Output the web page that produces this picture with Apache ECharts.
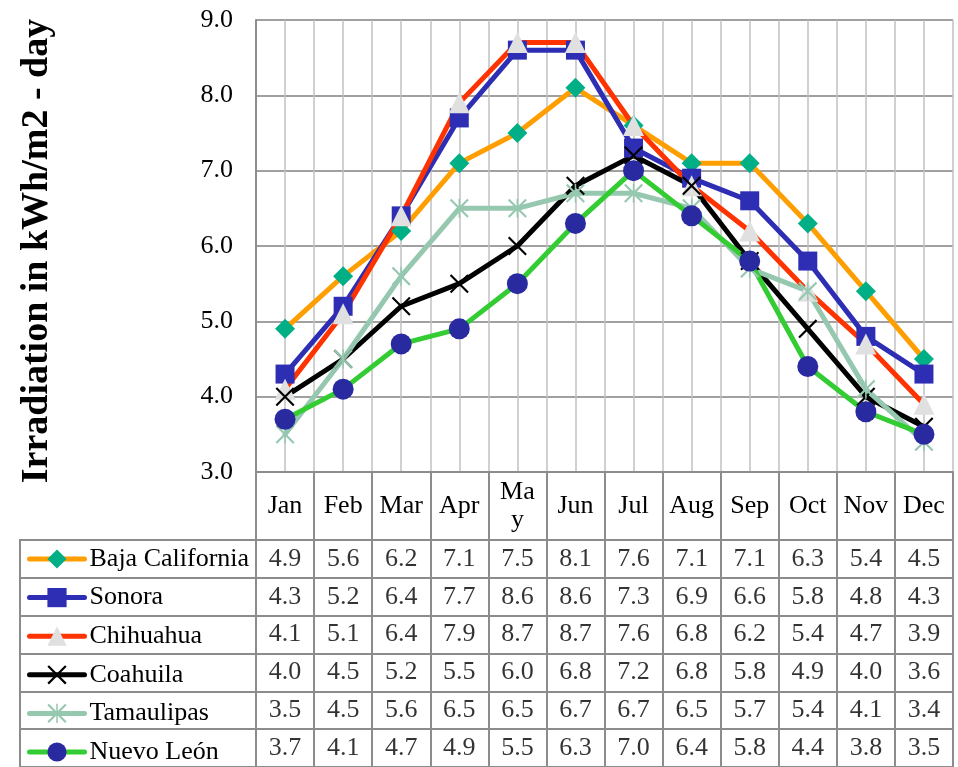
<!DOCTYPE html>
<html>
<head>
<meta charset="utf-8">
<script src="https://cdn.jsdelivr.net/npm/echarts@6/dist/echarts.min.js"></script>
<style>
  html, body { margin: 0; padding: 0; background: #fff; }
  #chart { width: 958px; height: 767px; }
</style>
</head>
<body>
<div id="chart"></div>
<script>
// Monthly solar irradiation (kWh/m2 per day) for six northern Mexican states
const months = ['Jan', 'Feb', 'Mar', 'Apr', 'May', 'Jun', 'Jul', 'Aug', 'Sep', 'Oct', 'Nov', 'Dec'];
const regions = ['Baja California', 'Sonora', 'Chihuahua', 'Coahuila', 'Tamaulipas', 'Nuevo León'];

const bajaCalifornia = [4.9, 5.6, 6.2, 7.1, 7.5, 8.1, 7.6, 7.1, 7.1, 6.3, 5.4, 4.5];
const sonora         = [4.3, 5.2, 6.4, 7.7, 8.6, 8.6, 7.3, 6.9, 6.6, 5.8, 4.8, 4.3];
const chihuahua      = [4.1, 5.1, 6.4, 7.9, 8.7, 8.7, 7.6, 6.8, 6.2, 5.4, 4.7, 3.9];
const coahuila       = [4.0, 4.5, 5.2, 5.5, 6.0, 6.8, 7.2, 6.8, 5.8, 4.9, 4.0, 3.6];
const tamaulipas     = [3.5, 4.5, 5.6, 6.5, 6.5, 6.7, 6.7, 6.5, 5.7, 5.4, 4.1, 3.4];
const nuevoLeon      = [3.7, 4.1, 4.7, 4.9, 5.5, 6.3, 7.0, 6.4, 5.8, 4.4, 3.8, 3.5];

const yMin = 3, yMax = 9, yStep = 1;
const yTitle = 'Irradiation in kWh/m2 - day';

const seriesValues = [bajaCalifornia, sonora, chihuahua, coahuila, tamaulipas, nuevoLeon];

// Marker shapes drawn as filled outlines
const crossPath = 'path://M0,0.8L0.8,0L10,9.2L9.2,10Z M9.2,0L10,0.8L0.8,10L0,9.2Z';
const starPath = 'path://M0,0.8L0.8,0L10,9.2L9.2,10Z M9.2,0L10,0.8L0.8,10L0,9.2Z M4.6,0L5.4,0L5.4,10L4.6,10Z';

const styles = [
  { line: '#FF9E00', marker: '#00AF86', symbol: 'diamond', size: 20 },
  { line: '#2E2EB5', marker: '#2E2EB5', symbol: 'rect', size: 19 },
  { line: '#FF3300', marker: '#E0E0E0', symbol: 'triangle', size: 21 },
  { line: '#000000', marker: '#000000', symbol: crossPath, size: 19 },
  { line: '#96C8B0', marker: '#96C8B0', symbol: starPath, size: 19 },
  { line: '#33CC33', marker: '#2A2AA0', symbol: 'circle', size: 21 }
];

const FONT = 'Liberation Serif, Times New Roman, serif';
const BORDER = '#8c8c8c';

const lineSeries = regions.map((name, i) => ({
  name: name,
  type: 'line',
  xAxisIndex: 0,
  yAxisIndex: 0,
  data: seriesValues[i],
  symbol: styles[i].symbol,
  symbolSize: styles[i].size,
  showAllSymbol: true,
  lineStyle: { color: styles[i].line, width: 5, cap: 'round', join: 'round' },
  itemStyle: { color: styles[i].marker },
  emphasis: { disabled: true },
  animation: false
}));

// Cell values of the data table under the plot
const cellData = [];
regions.forEach((name, r) => {
  seriesValues[r].forEach((v, c) => cellData.push([c, r, v]));
});

const tableSeries = {
  type: 'scatter',
  xAxisIndex: 2,
  yAxisIndex: 1,
  symbolSize: 0,
  data: cellData,
  label: {
    show: true,
    position: 'inside',
    formatter: p => p.value[2].toFixed(1),
    fontFamily: FONT,
    fontSize: 26,
    color: '#000'
  },
  silent: true,
  animation: false
};

const chart = echarts.init(document.getElementById('chart'), null, { renderer: 'canvas' });

chart.setOption({
  backgroundColor: '#ffffff',
  animation: false,
  legend: {
    orient: 'vertical',
    left: 27,
    top: 546,
    padding: 0,
    itemWidth: 55,
    itemHeight: 24,
    itemGap: 12.6,
    data: regions,
    selectedMode: false,
    lineStyle: { width: 5, cap: 'round' },
    textStyle: { fontFamily: FONT, fontSize: 26, color: '#000', lineHeight: 26 }
  },
  grid: [
    { left: 256, right: 5, top: 20, height: 452 },
    { left: 256, right: 5, top: 540, height: 231.6 },
    { left: 20, width: 236, top: 540, height: 231.6, show: true, borderColor: BORDER, borderWidth: 2, backgroundColor: 'transparent' }
  ],
  xAxis: [
    {
      type: 'category',
      gridIndex: 0,
      data: months,
      boundaryGap: true,
      axisLine: { show: true, lineStyle: { color: BORDER, width: 2 } },
      axisTick: { show: false },
      axisLabel: { show: false },
      splitLine: { show: false }
    },
    {
      // half-column vertical gridlines of the plot
      type: 'value',
      gridIndex: 0,
      min: 0,
      max: 24,
      interval: 1,
      position: 'top',
      axisLine: { show: false },
      axisTick: { show: false },
      axisLabel: { show: false },
      splitLine: { show: true, lineStyle: { color: '#c0c0c0', width: 1.5 } }
    },
    {
      type: 'category',
      gridIndex: 1,
      data: months,
      position: 'top',
      boundaryGap: true,
      axisLine: { show: true, lineStyle: { color: BORDER, width: 2 } },
      axisTick: { show: true, inside: false, length: 68, lineStyle: { color: BORDER, width: 2 } },
      axisLabel: {
        show: true,
        interval: 0,
        margin: 34,
        verticalAlign: 'middle',
        fontFamily: FONT,
        fontSize: 26,
        lineHeight: 28,
        color: '#000',
        formatter: v => (v === 'May' ? 'Ma\ny' : v)
      },
      splitLine: { show: true, interval: 0, lineStyle: { color: BORDER, width: 2 } }
    },
    {
      type: 'value',
      gridIndex: 2,
      show: false
    }
  ],
  yAxis: [
    {
      type: 'value',
      gridIndex: 0,
      min: yMin,
      max: yMax,
      interval: yStep,
      name: yTitle,
      nameLocation: 'middle',
      nameRotate: 90,
      nameGap: 200,
      nameTextStyle: { fontFamily: FONT, fontSize: 38, fontWeight: 'bold', color: '#000', padding: [0, 10, 0, 0] },
      axisLine: { show: true, lineStyle: { color: BORDER, width: 2 } },
      axisTick: { show: false },
      axisLabel: {
        margin: 23,
        fontFamily: FONT,
        fontSize: 26,
        color: '#000',
        formatter: v => v.toFixed(1)
      },
      splitLine: { show: true, lineStyle: { color: '#a0a0a0', width: 2 } }
    },
    {
      type: 'category',
      gridIndex: 1,
      data: regions,
      inverse: true,
      axisLine: { show: true, lineStyle: { color: BORDER, width: 2 } },
      axisTick: { show: false },
      axisLabel: { show: false },
      splitLine: { show: true, interval: 0, lineStyle: { color: BORDER, width: 2 } }
    },
    {
      type: 'category',
      gridIndex: 2,
      data: regions,
      inverse: true,
      axisLine: { show: false },
      axisTick: { show: false },
      axisLabel: { show: false },
      splitLine: { show: true, interval: 0, lineStyle: { color: BORDER, width: 2 } }
    }
  ],
  series: lineSeries.concat([tableSeries])
});
</script>
</body>
</html>
